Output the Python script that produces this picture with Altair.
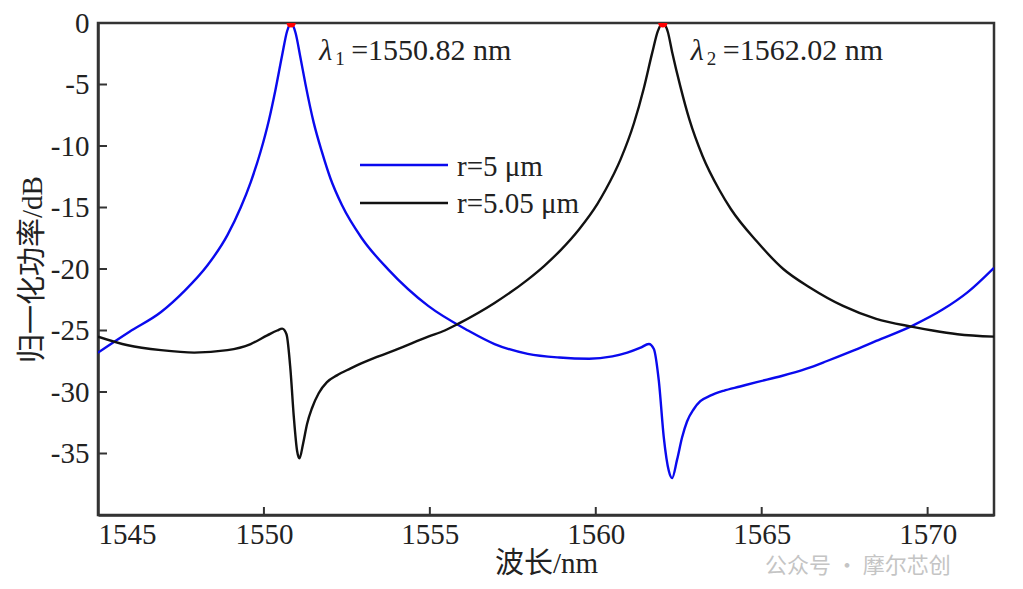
import altair as alt
import pandas as pd

# ---- data ----
series_names = ["r=5 μm", "r=5.05 μm"]
series_colors = ["#0a0aee", "#111111"]

wl_blue = [1545.0, 1545.95, 1546.9, 1547.6, 1548.3, 1548.9, 1549.3, 1549.6, 1549.9,
           1550.15, 1550.35, 1550.55, 1550.7, 1550.82, 1550.95, 1551.1, 1551.25,
           1551.5, 1551.75, 1552.0, 1552.35, 1552.95, 1553.75, 1554.95, 1556.15,
           1556.95, 1557.95, 1558.9, 1559.8, 1560.5, 1560.95, 1561.35, 1561.6,
           1561.75, 1561.9, 1562.05, 1562.2, 1562.3, 1562.45, 1562.6, 1562.75,
           1562.95, 1563.15, 1563.45, 1563.85, 1564.35, 1564.85, 1565.6, 1566.35,
           1566.95, 1567.7, 1568.45, 1569.55, 1570.45, 1571.2, 1572.0]
db_blue = [-26.8, -25.1, -23.5, -21.8, -19.7, -17.25, -15.0, -12.95, -10.45,
           -7.9, -5.4, -2.6, -0.65, 0.0, -0.77, -2.8, -4.95,
           -8.1, -10.5, -12.6, -14.8, -17.5, -20.05, -23.0, -25.0,
           -26.1, -26.9, -27.2, -27.3, -27.1, -26.8, -26.4, -26.1,
           -26.5, -29.1, -33.7, -36.4, -37.0, -35.5, -33.7, -32.4,
           -31.4, -30.75, -30.3, -29.9, -29.55, -29.2, -28.7, -28.1,
           -27.5, -26.7, -25.85, -24.6, -23.3, -21.9, -19.9]

wl_black = [1545.0, 1545.9, 1546.9, 1547.9, 1548.9, 1549.6, 1550.1, 1550.4, 1550.55,
            1550.68, 1550.8, 1550.9, 1551.0, 1551.07, 1551.18, 1551.3, 1551.45,
            1551.65, 1551.9, 1552.2, 1552.6, 1552.95, 1553.45, 1553.95, 1554.95,
            1555.45, 1555.85, 1556.95, 1557.95, 1558.45, 1558.95, 1559.5, 1560.05,
            1560.3, 1560.75, 1561.15, 1561.45, 1561.7, 1561.87, 1562.02, 1562.17,
            1562.3, 1562.55, 1562.82, 1563.22, 1563.72, 1564.07, 1564.85, 1565.65,
            1566.45, 1567.45, 1568.45, 1569.55, 1570.15, 1570.9, 1572.0]
db_black = [-25.5, -26.2, -26.6, -26.8, -26.6, -26.1, -25.4, -25.0, -24.85,
            -25.3, -28.2, -32.0, -34.8, -35.4, -34.2, -32.6, -31.3,
            -30.1, -29.2, -28.65, -28.1, -27.65, -27.1, -26.6, -25.5,
            -25.0, -24.46, -22.76, -20.86, -19.74, -18.44, -16.76, -14.7,
            -13.54, -11.07, -8.15, -5.28, -2.43, -0.66, 0.0, -0.71,
            -2.35, -5.17, -7.84, -10.83, -13.56, -15.12, -17.75, -20.0,
            -21.5, -23.0, -24.05, -24.7, -25.0, -25.3, -25.5]

peak_wl = [1550.82, 1562.02]
peak_db = [0.0, 0.0]
peak_sub = ["1", "2"]

x_ticks = [1545, 1550, 1555, 1560, 1565, 1570]
y_ticks = [0, -5, -10, -15, -20, -25, -30, -35]

# ---- tables ----
lines_df = pd.concat([
    pd.DataFrame({"wl": wl_blue, "db": db_blue, "series": series_names[0]}),
    pd.DataFrame({"wl": wl_black, "db": db_black, "series": series_names[1]}),
], ignore_index=True)
peaks_df = pd.DataFrame({"wl": peak_wl, "db": peak_db, "sub": peak_sub,
                         "label": [f"={w:.2f} nm" for w in peak_wl]})
xt_df = pd.DataFrame({"v": x_ticks})
yt_df = pd.DataFrame({"v": y_ticks})

W, H = 896, 492
SERIF = "Times New Roman, Liberation Serif, serif"
CJK = "Times New Roman, Liberation Serif, Noto Sans CJK SC, serif"
FS = 29
INK = "#222222"
LABEL_EXPR = "datum.value < 0 ? '-' + toString(-datum.value) : toString(datum.value)"

xs = alt.Scale(domain=[1545, 1572], nice=False, zero=False)
ys = alt.Scale(domain=[-40, 0], nice=False, zero=False)
cs = alt.Scale(domain=series_names, range=series_colors)

x_axis = alt.Axis(values=x_ticks, labelExpr=LABEL_EXPR, tickSize=0, labelPadding=5, grid=False,
                  domainColor="#333333", domainWidth=2.5,
                  labelFont=SERIF, labelFontSize=FS, labelColor=INK,
                  title="波长/nm", titleFont=CJK, titleFontSize=FS,
                  titleFontWeight="normal", titleColor=INK,
                  titleBaseline="alphabetic", titleY=57, titleX=W / 2)
y_axis = alt.Axis(values=y_ticks, labelExpr=LABEL_EXPR, tickSize=0, labelPadding=9, grid=False,
                  domainColor="#333333", domainWidth=2.5,
                  labelFont=SERIF, labelFontSize=FS, labelColor=INK,
                  title="归一化功率/dB", titleFont=CJK, titleFontSize=FS,
                  titleFontWeight="normal", titleColor=INK,
                  titleX=-66, titleY=H / 2, titleBaseline="middle", titleAngle=270)

base = alt.Chart(lines_df)
curves = base.mark_line(strokeWidth=2.4, interpolate="monotone", clip=True).encode(
    x=alt.X("wl:Q", scale=xs, axis=x_axis),
    y=alt.Y("db:Q", scale=ys, axis=y_axis),
    color=alt.Color("series:N", scale=cs, legend=None),
    detail="series:N",
)

xticks = alt.Chart(xt_df).mark_rule(color="#333333", strokeWidth=2).encode(
    x=alt.X("v:Q", scale=xs, axis=x_axis), y=alt.value(H), y2=alt.value(H - 8))
yticks = alt.Chart(yt_df).mark_rule(color="#333333", strokeWidth=2).encode(
    y=alt.Y("v:Q", scale=ys, axis=y_axis), x=alt.value(0), x2=alt.value(9))

pk = alt.Chart(peaks_df)
px_enc = dict(x=alt.X("wl:Q", scale=xs, axis=x_axis), y=alt.Y("db:Q", scale=ys, axis=y_axis))
dots = pk.mark_circle(color="#ff0000", size=85, opacity=1, clip=True).encode(**px_enc)
lam = pk.mark_text(align="left", baseline="alphabetic", dx=28, dy=37,
                   font=SERIF, fontStyle="italic", fontSize=FS + 1, color=INK).encode(
    text=alt.value("λ"), **px_enc)
sub = pk.mark_text(align="left", baseline="alphabetic", dx=44, dy=42,
                   font=SERIF, fontSize=19, color=INK).encode(
    text="sub:N", **px_enc)
lab = pk.mark_text(align="left", baseline="alphabetic", dx=60, dy=37,
                   font=SERIF, fontSize=FS + 1, color=INK).encode(
    text="label:N", **px_enc)

legend_layers = []
for i, (name, col) in enumerate(zip(series_names, series_colors)):
    one = alt.Chart(pd.DataFrame({"series": [name]}))
    legend_layers.append(one.mark_rule(color=col, strokeWidth=2.4).encode(
        x=alt.value(262), x2=alt.value(350), y=alt.value(142 + 38 * i)))
    legend_layers.append(one.mark_text(align="left", baseline="alphabetic",
                                       font=SERIF, fontSize=FS, color=INK).encode(
        x=alt.value(359), y=alt.value(153 + 37 * i), text="series:N"))

wm = alt.Chart(pd.DataFrame({"t": ["公众号 · 摩尔芯创"]})).mark_text(
    align="left", baseline="middle", font="Noto Sans CJK SC", fontSize=22,
    color="#c4c4c4").encode(x=alt.value(667), y=alt.value(543), text="t:N")

chart = alt.layer(curves, xticks, yticks, dots, lam, sub, lab, *legend_layers, wm).properties(
    width=W, height=H,
    autosize=alt.AutoSizeParams(type="none"),
    padding={"left": 90, "top": 15, "right": 20, "bottom": 66},
).configure(
    background="white", font=SERIF,
    style={"guide-label": {"font": SERIF}, "guide-title": {"font": CJK}},
).configure_view(
    stroke="#333333", strokeWidth=2.5
).configure_axis(
    labelFont=SERIF, titleFont=CJK, labelFontSize=FS, titleFontSize=FS,
    titleFontWeight="normal", grid=False
)

chart.save("out.html", embed_options={"renderer": "svg", "actions": False})
